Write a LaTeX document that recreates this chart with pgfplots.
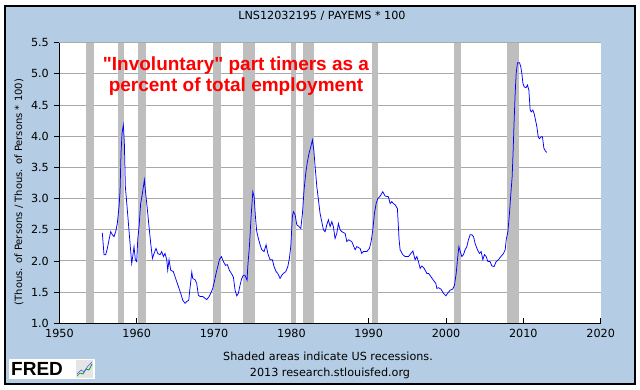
\documentclass[border=0pt]{standalone}
\usepackage{fontspec}
\setmainfont{DejaVu Sans}
\newfontfamily\arialfont{Liberation Sans}
\usepackage{pgfplots}
\pgfplotsset{compat=1.18}
\definecolor{bgblue}{RGB}{180,205,228}
\definecolor{recgray}{RGB}{190,190,190}
\definecolor{gridgray}{RGB}{170,170,170}
\definecolor{fredred}{RGB}{255,0,0}
\pgfplotstableread{
year val
1955.55 2.45
1955.77 2.10
1955.99 2.10
1956.20 2.20
1956.42 2.34
1956.63 2.47
1956.85 2.42
1957.06 2.39
1957.28 2.47
1957.49 2.60
1957.71 2.87
1957.84 3.11
1957.97 3.73
1958.10 4.05
1958.27 4.18
1958.40 3.89
1958.53 3.19
1958.75 2.87
1958.96 2.55
1959.17 2.23
1959.35 1.96
1959.48 2.07
1959.65 2.23
1959.82 2.02
1960.00 1.99
1960.13 2.34
1960.30 2.55
1960.51 2.92
1960.73 3.08
1960.99 3.30
1961.16 3.08
1961.38 2.82
1961.59 2.55
1961.81 2.28
1962.03 2.04
1962.24 2.12
1962.50 2.20
1962.72 2.12
1963.02 2.10
1963.23 2.15
1963.45 2.07
1963.66 2.12
1963.88 2.02
1964.01 1.85
1964.18 2.02
1964.40 1.85
1964.73 1.83
1964.95 1.75
1965.25 1.64
1965.47 1.56
1965.69 1.48
1965.95 1.37
1966.25 1.32
1966.47 1.35
1966.73 1.37
1966.86 1.53
1967.12 1.82
1967.24 1.72
1967.54 1.70
1967.76 1.64
1967.97 1.45
1968.19 1.43
1968.54 1.43
1968.84 1.40
1969.06 1.38
1969.36 1.43
1969.57 1.48
1969.83 1.56
1970.04 1.67
1970.26 1.80
1970.48 1.91
1970.69 2.02
1970.95 2.07
1971.21 1.99
1971.47 1.93
1971.73 1.94
1971.98 1.85
1972.24 1.80
1972.50 1.74
1972.72 1.53
1972.94 1.44
1973.14 1.48
1973.36 1.61
1973.58 1.72
1973.79 1.77
1974.00 1.77
1974.27 1.69
1974.36 1.91
1974.57 2.23
1974.79 2.71
1975.01 3.11
1975.18 3.03
1975.35 2.71
1975.52 2.47
1975.73 2.36
1975.95 2.26
1976.17 2.18
1976.47 2.15
1976.73 2.26
1976.95 2.12
1977.24 2.02
1977.54 2.02
1977.76 1.91
1978.02 1.83
1978.24 1.80
1978.54 1.72
1978.76 1.77
1978.97 1.80
1979.28 1.83
1979.54 1.91
1979.74 2.04
1979.92 2.23
1980.13 2.71
1980.26 2.79
1980.48 2.74
1980.70 2.58
1981.00 2.55
1981.22 2.52
1981.43 2.76
1981.64 3.14
1981.86 3.41
1982.07 3.59
1982.29 3.73
1982.51 3.83
1982.72 3.94
1982.90 3.78
1983.07 3.51
1983.29 3.19
1983.50 2.98
1983.71 2.76
1983.93 2.63
1984.14 2.50
1984.36 2.47
1984.58 2.58
1984.79 2.66
1985.01 2.55
1985.23 2.63
1985.43 2.55
1985.65 2.36
1985.87 2.44
1986.08 2.60
1986.30 2.50
1986.52 2.47
1986.95 2.44
1987.17 2.31
1987.40 2.34
1987.81 2.31
1988.24 2.18
1988.46 2.23
1988.89 2.20
1989.10 2.12
1989.31 2.15
1989.75 2.15
1990.09 2.20
1990.31 2.31
1990.53 2.50
1990.74 2.76
1990.96 2.92
1991.18 3.00
1991.48 3.04
1991.82 3.11
1992.12 3.04
1992.55 3.03
1992.77 2.92
1992.98 2.95
1993.20 2.92
1993.42 2.90
1993.71 2.84
1993.93 2.34
1994.06 2.18
1994.41 2.10
1994.71 2.07
1995.14 2.07
1995.45 2.12
1995.71 2.16
1996.00 2.02
1996.22 2.07
1996.43 1.99
1996.65 1.88
1996.87 1.92
1997.17 1.88
1997.52 1.80
1997.74 1.80
1998.03 1.75
1998.37 1.69
1998.68 1.64
1998.81 1.56
1999.02 1.57
1999.33 1.55
1999.67 1.48
1999.98 1.44
2000.19 1.48
2000.53 1.53
2000.88 1.55
2001.09 1.61
2001.31 1.80
2001.48 2.02
2001.66 2.23
2001.82 2.16
2002.04 2.07
2002.25 2.10
2002.47 2.18
2002.69 2.23
2002.90 2.34
2003.12 2.42
2003.33 2.42
2003.55 2.39
2003.76 2.28
2004.06 2.18
2004.32 2.12
2004.54 2.15
2004.76 2.02
2004.97 2.10
2005.19 2.07
2005.41 1.99
2005.70 1.99
2005.92 1.92
2006.22 1.91
2006.48 1.99
2006.78 2.02
2007.09 2.07
2007.43 2.12
2007.65 2.18
2007.78 2.34
2008.00 2.47
2008.20 2.76
2008.38 3.08
2008.55 3.35
2008.68 3.78
2008.81 4.26
2008.94 4.69
2009.07 5.01
2009.24 5.18
2009.50 5.18
2009.67 5.11
2009.80 5.01
2009.94 4.85
2010.11 4.79
2010.36 4.78
2010.53 4.82
2010.71 4.74
2010.88 4.42
2011.01 4.39
2011.22 4.42
2011.40 4.36
2011.57 4.26
2011.75 4.15
2011.92 3.99
2012.08 3.96
2012.30 3.99
2012.47 3.99
2012.65 3.81
2012.86 3.76
2013.04 3.74
}\seriesdata
\begin{document}
\begin{tikzpicture}[x=1pt,y=1pt]
\fill[white] (0,0) rectangle (640,390);
\draw[black, line width=1.2pt, fill=bgblue] (5,6) rectangle (635,384);
\begin{axis}[
  at={(59.4pt,66.7pt)}, anchor=south west,
  scale only axis, width=541.3pt, height=280.6pt,
  xmin=1950, xmax=2020, ymin=1, ymax=5.5,
  xtick={1950,1960,...,2020},
  ytick={1,1.5,...,5.5},
  axis x line*=bottom, axis y line*=left,
  axis line style={-, black, line width=1pt},
  axis background/.style={fill=white},
  tick align=outside,
  major tick length=5pt,
  x tick style={black, line width=0.8pt, yshift=5pt},
  y tick style={black, line width=0.8pt},
  ymajorgrids, grid style={gridgray, line width=1pt},
  /pgf/number format/assume math mode=true,
  /pgf/number format/.cd, fixed, fixed zerofill, precision=1, 1000 sep={},
  /pgfplots/.cd,
  xticklabel style={/pgf/number format/precision=0, /pgf/number format/fixed zerofill=false, yshift=3pt},
  ticklabel style={font=\fontsize{11.2pt}{13pt}\selectfont},
  yticklabel style={xshift=-2pt},
  clip=true,
]
\addplot[fill=recgray, draw=none] coordinates {(1953.45,1) (1954.42,1) (1954.42,5.5) (1953.45,5.5)} -- cycle;
\addplot[fill=recgray, draw=none] coordinates {(1957.62,1) (1958.36,1) (1958.36,5.5) (1957.62,5.5)} -- cycle;
\addplot[fill=recgray, draw=none] coordinates {(1960.17,1) (1961.16,1) (1961.16,5.5) (1960.17,5.5)} -- cycle;
\addplot[fill=recgray, draw=none] coordinates {(1969.91,1) (1970.87,1) (1970.87,5.5) (1969.91,5.5)} -- cycle;
\addplot[fill=recgray, draw=none] coordinates {(1973.75,1) (1975.30,1) (1975.30,5.5) (1973.75,5.5)} -- cycle;
\addplot[fill=recgray, draw=none] coordinates {(1979.96,1) (1980.61,1) (1980.61,5.5) (1979.96,5.5)} -- cycle;
\addplot[fill=recgray, draw=none] coordinates {(1981.51,1) (1982.94,1) (1982.94,5.5) (1981.51,5.5)} -- cycle;
\addplot[fill=recgray, draw=none] coordinates {(1990.44,1) (1991.22,1) (1991.22,5.5) (1990.44,5.5)} -- cycle;
\addplot[fill=recgray, draw=none] coordinates {(2001.09,1) (2001.91,1) (2001.91,5.5) (2001.09,5.5)} -- cycle;
\addplot[fill=recgray, draw=none] coordinates {(2007.90,1) (2009.42,1) (2009.42,5.5) (2007.90,5.5)} -- cycle;
\addplot[blue, line width=0.75pt, mark=none] table[x=year, y=val] {\seriesdata};
\end{axis}
% title
\node[font=\fontsize{11.2pt}{13pt}\selectfont] at (322,374) {LNS12032195 / PAYEMS * 100};
% y label
\node[rotate=90, font=\fontsize{10pt}{12pt}\selectfont] at (19,198) {(Thous. of Persons / Thous. of Persons * 100)};
% annotation
\node[font=\arialfont\bfseries\fontsize{19pt}{21.7pt}\selectfont, text=fredred, align=center] at (236,314) {"Involuntary" part timers as a\\percent of total employment};
% bottom texts
\node[font=\fontsize{11.2pt}{13pt}\selectfont] at (328,34) {Shaded areas indicate US recessions.};
\node[font=\fontsize{11.2pt}{13pt}\selectfont] at (330,17) {2013 research.stlouisfed.org};
% FRED logo
\fill[white] (9,11) rectangle (95,31);
\node[font=\arialfont\bfseries\fontsize{19pt}{20pt}\selectfont, anchor=west, inner sep=0pt] at (11,21) {FRED};
\fill[gray!20] (76,12) rectangle (93,30);
\draw[green!60!black, line width=0.7pt] (77,14) -- (80,17) -- (83,16) -- (86,21) -- (89,20) -- (92,26);
\draw[blue!70, line width=0.6pt] (77,16) -- (81,20) -- (84,18) -- (88,24) -- (92,28);
\end{tikzpicture}
\end{document}
